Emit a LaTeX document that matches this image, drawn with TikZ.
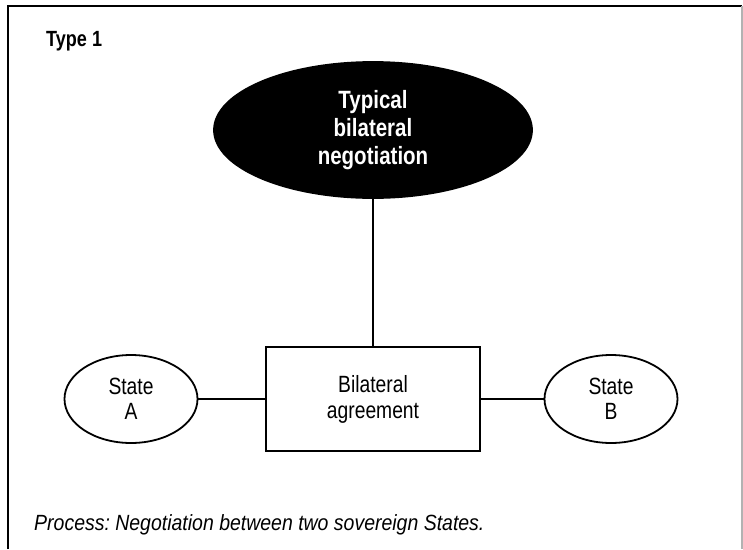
\documentclass[tikz,border=0pt]{standalone}
\usepackage{fontspec}
\setmainfont{Liberation Sans}[FakeStretch=0.82]
\newfontfamily\notefont{Liberation Sans}[FakeStretch=0.885]
\usetikzlibrary{shapes.geometric}
\begin{document}
\begin{tikzpicture}[x=1pt,y=-1pt,line width=1.8pt]
\tikzstyle{talks} = [ellipse, draw, fill=black, text=white, align=center,
font=\bfseries\fontsize{25}{28}\selectfont, minimum width=318pt, minimum height=136pt, inner sep=0pt]
\tikzstyle{party} = [ellipse, draw, align=center,
font=\fontsize{23.5}{25}\selectfont, minimum width=133pt, minimum height=88pt, inner sep=0pt]
\tikzstyle{block} = [rectangle, draw, align=center,
font=\fontsize{23.5}{26}\selectfont, minimum width=214pt, minimum height=104pt]
\tikzstyle{line} = [draw];
\useasboundingbox (0,0) rectangle (743,549);
% frame
\draw (8,549) -- (8,6) -- (742,6);
\draw[gray!60] (742,6) -- (742,549);
\node [anchor=base west, font=\bfseries\fontsize{22}{24}\selectfont] (title) at (42,46) {Type 1};
\node [talks] (typical) at (373,130) {Typical\\bilateral\\negotiation};
\node [block] (agreement) at (373,399) {Bilateral\\agreement};
\node [party] (stateA) at (131,399) {State\\A};
\node [party] (stateB) at (611,399) {State\\B};
\node [anchor=base west, font=\notefont\itshape\frenchspacing\fontsize{22}{24}\selectfont] (process) at (30,530)
{Process: Negotiation between two sovereign States.};
% connectors
\path [line] (typical) -- (agreement);
\path [line] (stateA) -- (agreement);
\path [line] (agreement) -- (stateB);
\end{tikzpicture}
\end{document}
